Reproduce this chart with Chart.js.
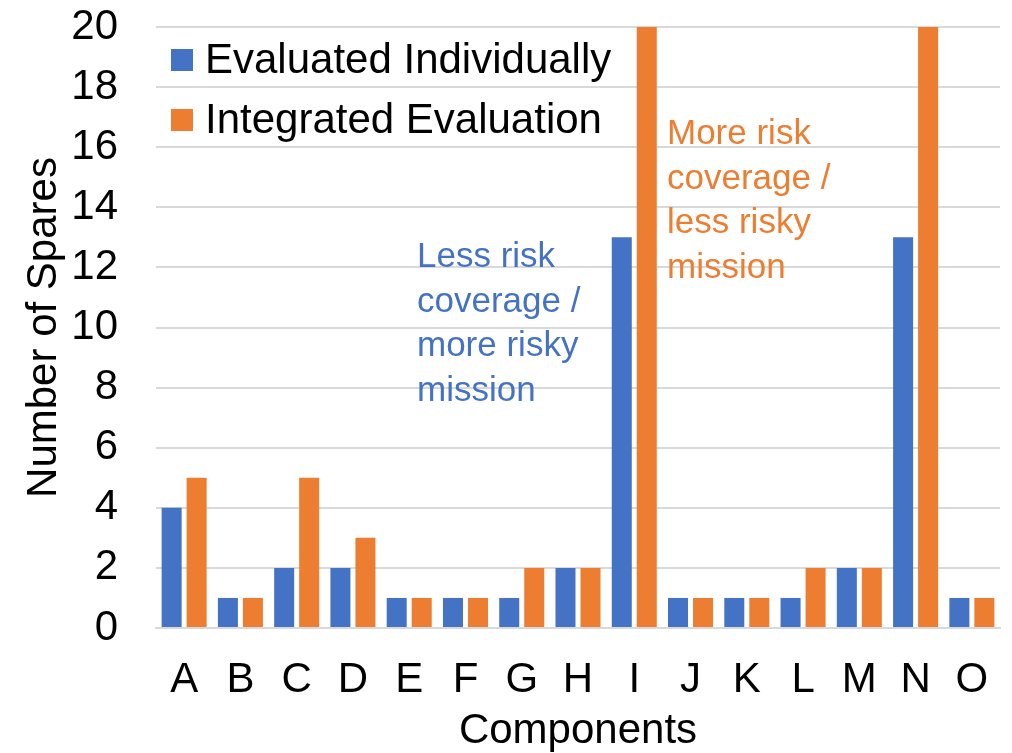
<!DOCTYPE html>
<html>
<head>
<meta charset="utf-8">
<script src="https://cdn.jsdelivr.net/npm/chart.js@4/dist/chart.umd.min.js"></script>
<style>
  html, body { margin: 0; padding: 0; background: #ffffff; }
  #wrap { width: 1012px; height: 753px; }
</style>
</head>
<body>
<div id="wrap"><canvas id="c" width="1012" height="753"></canvas></div>
<script>
// Spares per component under the two evaluation approaches
const components = ['A','B','C','D','E','F','G','H','I','J','K','L','M','N','O'];
const evaluatedIndividually = [4, 1, 2, 2, 1, 1, 1, 2, 13, 1, 1, 1, 2, 13, 1];
const integratedEvaluation  = [5, 1, 5, 3, 1, 1, 2, 2, 20, 1, 1, 2, 2, 20, 1];
const yTicks = [0, 2, 4, 6, 8, 10, 12, 14, 16, 18, 20];

const BLUE = '#4472C4';
const ORANGE = '#ED7D31';
const FONT = "'Liberation Sans', Arial, sans-serif";

// Legend drawn inside the plot area, stacked vertically at the top-left
const insideLegend = {
  id: 'insideLegend',
  afterDatasetsDraw(chart) {
    const ctx = chart.ctx;
    const ca = chart.chartArea;
    ctx.save();
    ctx.font = '42px ' + FONT;
    ctx.textBaseline = 'alphabetic';
    ctx.textAlign = 'left';
    chart.data.datasets.forEach((ds, i) => {
      const base = ca.top + 46 + i * 60;
      ctx.fillStyle = ds.backgroundColor;
      ctx.fillRect(ca.left + 15, base - 24, 22, 22);
      ctx.fillStyle = '#000000';
      ctx.fillText(ds.label, ca.left + 49, base);
    });
    ctx.restore();
  }
};

// Explanatory notes beside the tallest bars
const notes = [
  { lines: ['Less risk', 'coverage /', 'more risky', 'mission'], color: BLUE, x: 417, y: 267 },
  { lines: ['More risk', 'coverage /', 'less risky', 'mission'], color: ORANGE, x: 667, y: 144 }
];
const notesPlugin = {
  id: 'notes',
  afterDatasetsDraw(chart) {
    const ctx = chart.ctx;
    ctx.save();
    ctx.font = '35px ' + FONT;
    ctx.textAlign = 'left';
    ctx.textBaseline = 'alphabetic';
    notes.forEach(n => {
      ctx.fillStyle = n.color;
      n.lines.forEach((t, k) => ctx.fillText(t, n.x, n.y + k * 44.5));
    });
    ctx.restore();
  }
};

new Chart(document.getElementById('c'), {
  type: 'bar',
  data: {
    labels: components,
    datasets: [
      { label: 'Evaluated Individually', data: evaluatedIndividually, backgroundColor: BLUE, borderWidth: 0 },
      { label: 'Integrated Evaluation', data: integratedEvaluation, backgroundColor: ORANGE, borderWidth: 0 }
    ]
  },
  options: {
    responsive: false,
    animation: false,
    devicePixelRatio: 1,
    layout: { autoPadding: false, padding: { top: 27, right: 12, left: 0, bottom: 0 } },
    datasets: { bar: { categoryPercentage: 0.889, barPercentage: 0.8 } },
    plugins: {
      legend: { display: false },
      tooltip: { enabled: false }
    },
    scales: {
      x: {
        grid: { display: false, drawTicks: false },
        border: { display: true, color: '#d9d9d9', width: 2 },
        ticks: { color: '#000', font: { family: FONT, size: 42 }, padding: 27, maxRotation: 0, autoSkip: false },
        title: { display: true, text: 'Components', color: '#000', font: { family: FONT, size: 42 }, padding: { top: 0, bottom: -4 } },
        afterFit(scale) { scale.height = 125; scale.paddingLeft = 0; scale.paddingRight = 0; }
      },
      y: {
        min: 0, max: 20,
        afterBuildTicks(scale) { scale.ticks = yTicks.map(v => ({ value: v })); },
        grid: { color: '#d9d9d9', lineWidth: 2, drawTicks: false },
        border: { display: false },
        ticks: { color: '#000', font: { family: FONT, size: 42 }, padding: 38 },
        title: { display: true, text: 'Number of Spares', color: '#000', font: { family: FONT, size: 42 }, padding: { top: 19, bottom: 0 } },
        afterFit(scale) { scale.width = 156; scale.paddingTop = 0; scale.paddingBottom = 0; }
      }
    }
  },
  plugins: [insideLegend, notesPlugin]
});
</script>
</body>
</html>
